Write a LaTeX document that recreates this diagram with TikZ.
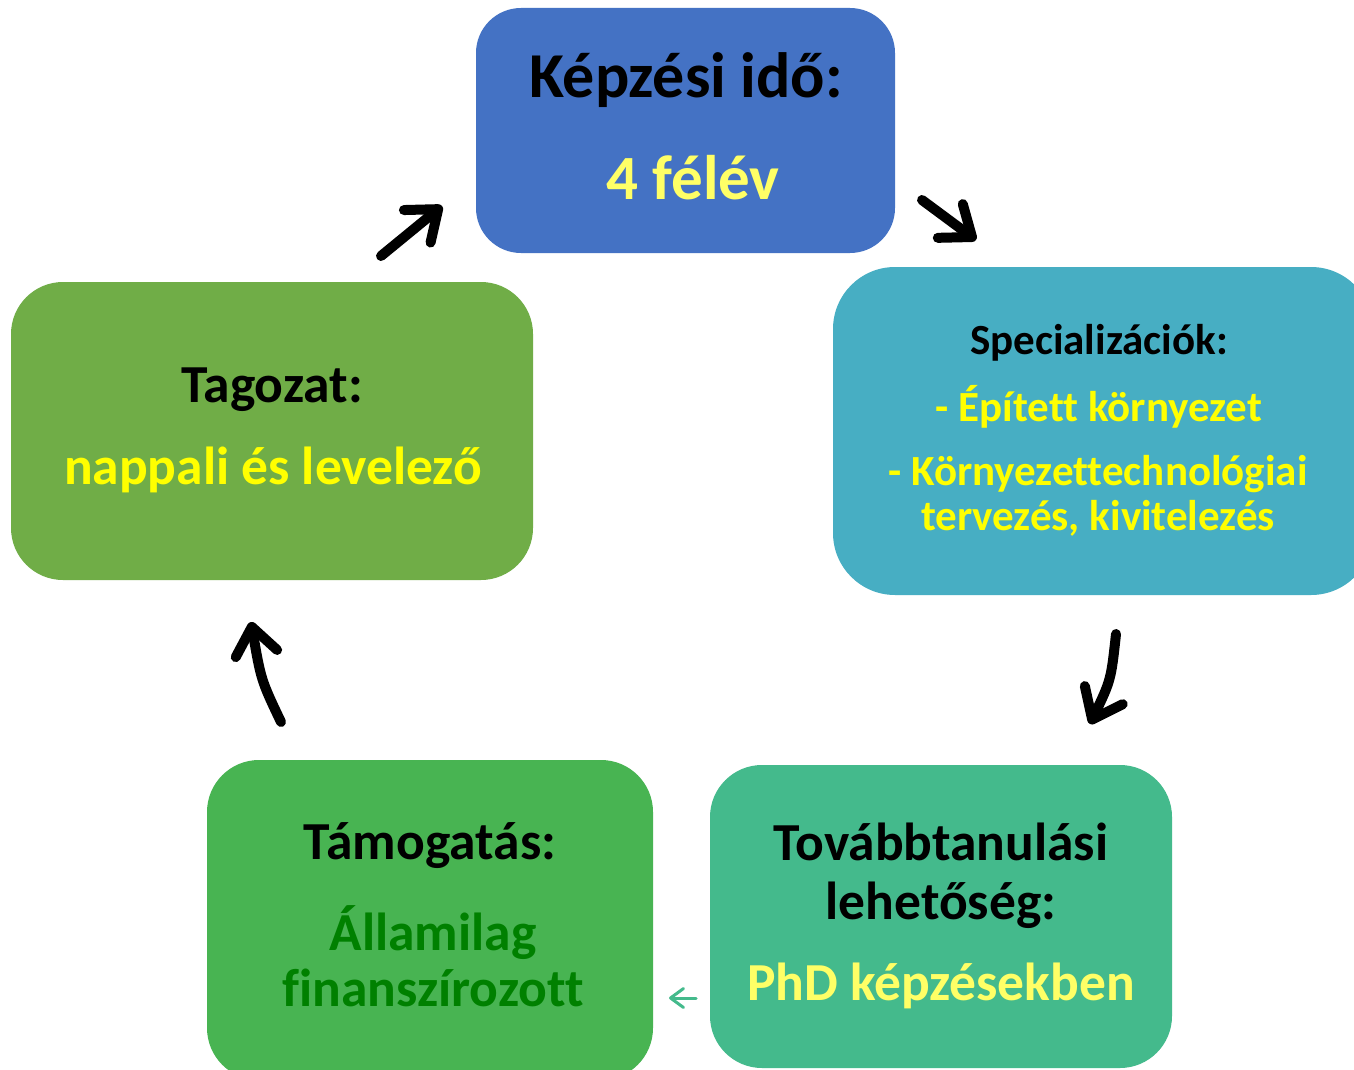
\documentclass[tikz,border=0pt]{standalone}
\usepackage{fontspec}
\setmainfont{Carlito}[Ligatures=CommonOff]
\usetikzlibrary{arrows.meta}
\definecolor{cblue}{RGB}{68,114,196}
\definecolor{cteal}{RGB}{71,174,195}
\definecolor{cgreenA}{RGB}{112,173,71}
\definecolor{cgreenB}{RGB}{72,180,82}
\definecolor{cmint}{RGB}{68,186,140}
\definecolor{tyellow}{RGB}{255,255,102}
\definecolor{tyellowB}{RGB}{255,255,0}
\definecolor{tgreen}{RGB}{0,128,0}
\tikzset{
  box/.style={rectangle, draw=none, inner sep=0pt},
  txt/.style={inner sep=0pt, align=center, font=\bfseries},
  bigarrow/.style={line width=10pt, line cap=round, -{Straight Barb[length=27pt,width=42pt,round]}},
  thinarrow/.style={line width=3pt, draw=cmint, line cap=round, -{Straight Barb[length=13pt,width=19pt,round]}}
}
\begin{document}
\begin{tikzpicture}[x=1pt,y=-1pt]
\clip (0,0) rectangle (1354,1070);
\fill[white] (0,0) rectangle (1354,1070);
% boxes
\node[box, fill=cblue, rounded corners=45pt, minimum width=419pt, minimum height=245pt] (b1) at (685.5,130.5) {};
\node[box, fill=cteal, rounded corners=62pt, minimum width=540pt, minimum height=328pt] (b2) at (1103,431) {};
\node[box, fill=cmint, rounded corners=52pt, minimum width=462pt, minimum height=303pt] (b3) at (941,916.5) {};
\node[box, fill=cgreenB, rounded corners=52pt, minimum width=446pt, minimum height=320pt] (b4) at (430,920) {};
\node[box, fill=cgreenA, rounded corners=52pt, minimum width=522pt, minimum height=298pt] (b5) at (272,431) {};
% texts
\node[txt, font=\bfseries\fontsize{64}{70}\selectfont] (t1a) at (686,80) {Képzési idő:};
\node[txt, font=\bfseries\fontsize{63}{70}\selectfont, text=tyellow] (t1b) at (693,178) {4 félév};
\node[txt, font=\bfseries\fontsize{43}{48}\selectfont] (t2a) at (1099,343) {Specializációk:};
\node[txt, font=\bfseries\fontsize{43}{48}\selectfont, text=tyellowB] (t2b) at (1099,407) {- Épített környezet};
\node[txt, font=\bfseries\fontsize{43}{45}\selectfont, text=tyellowB] (t2c) at (1098,496) {- Környezettechnológiai\\tervezés, kivitelezés};
\node[txt, font=\bfseries\fontsize{53.5}{59}\selectfont] (t3a) at (941,876) {Továbbtanulási\\lehetőség:};
\node[txt, font=\bfseries\fontsize{53.5}{59}\selectfont, text=tyellow] (t3b) at (941,986) {PhD képzésekben};
\node[txt, font=\bfseries\fontsize{53.5}{59}\selectfont] (t4a) at (430,846) {Támogatás:};
\node[txt, font=\bfseries\fontsize{53.5}{56}\selectfont, text=tgreen] (t4b) at (433,956) {Államilag\\finanszírozott};
\node[txt, font=\bfseries\fontsize{53.5}{59}\selectfont] (t5a) at (272,390) {Tagozat:};
\node[txt, font=\bfseries\fontsize{53.5}{59}\selectfont, text=tyellowB] (t5b) at (273,470) {nappali és levelező};
% arrow endpoints
\coordinate (a1s) at (381,256);
\coordinate (a1e) at (442,206);
\coordinate (a2s) at (922,200);
\coordinate (a2e) at (976,240);
\coordinate (a3s) at (1116,634);
\coordinate (a3e) at (1090,724);
\coordinate (a4s) at (281,722);
\coordinate (a4e) at (251,622);
\coordinate (a5s) at (696,998);
\coordinate (a5e) at (669,998);
\draw[bigarrow] (a1s) -- (a1e);
\draw[bigarrow] (a2s) -- (a2e);
\draw[bigarrow] (a3s) .. controls (1111,680) .. (a3e);
\draw[bigarrow] (a4s) .. controls (261,680) .. (a4e);
\draw[thinarrow] (a5s) -- (a5e);
\end{tikzpicture}
\end{document}
